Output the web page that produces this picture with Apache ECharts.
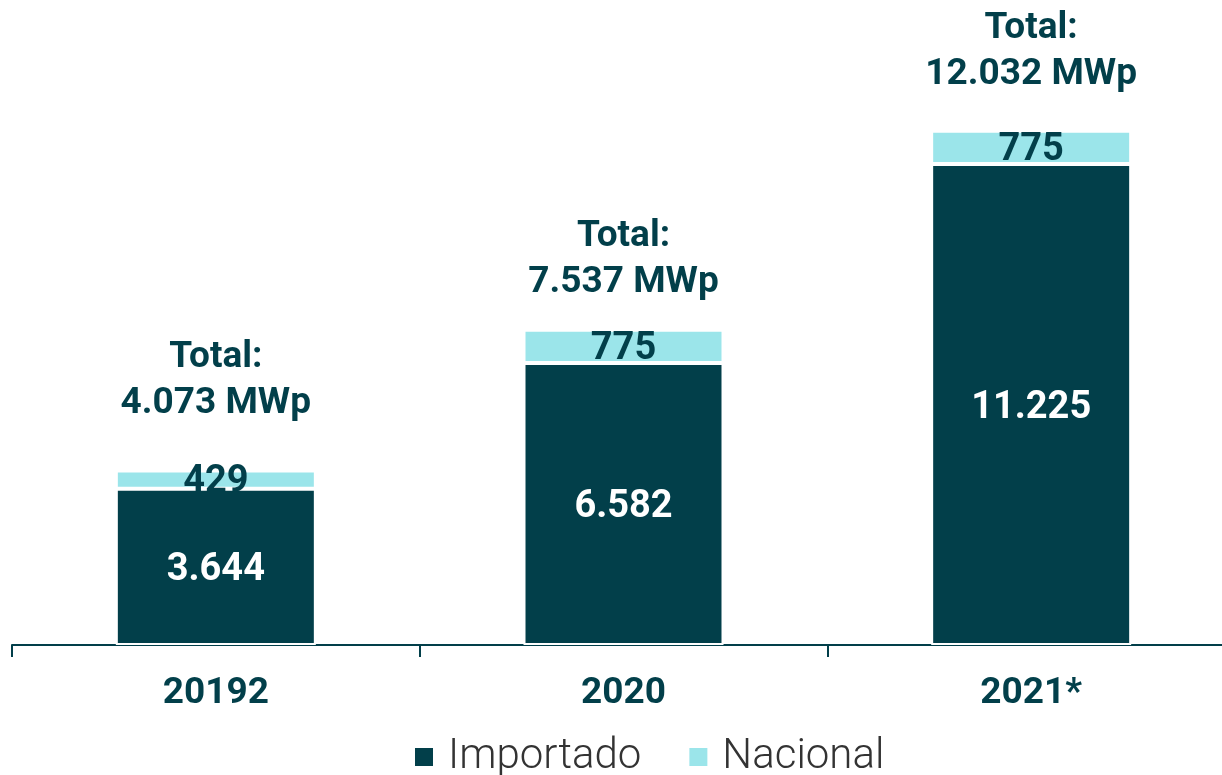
<!DOCTYPE html>
<html>
<head>
<meta charset="utf-8">
<script src="https://cdn.jsdelivr.net/npm/echarts@6/dist/echarts.min.js"></script>
<style>
  html, body { margin: 0; padding: 0; background: #fff; }
  #main { width: 1222px; height: 775px; }
</style>
</head>
<body>
<div id="main"></div>
<script>
// datos
var anos = ['20192', '2020', '2021*'];
var importado = [3644, 6582, 11225];
var nacional = [429, 775, 775];
var totales = ['4.073', '7.537', '12.032'];

var oscuro = '#023f4a';
var claro = '#9be5ea';
var fuente = 'Roboto';

// separacion del texto "Total" sobre cada barra
var distTotal = [44, 24, 33];

function miles(v) {
  return String(v).replace(/\B(?=(\d{3})+(?!\d))/g, '.');
}

var option = {
  animation: false,
  grid: { left: 12, right: -13, top: 45, bottom: 130, outerBoundsMode: 'none' },
  legend: {
    data: ['Importado', 'Nacional'],
    bottom: -8,
    left: 408,
    icon: 'rect',
    itemWidth: 20,
    itemHeight: 20,
    itemGap: 46,
    textStyle: { fontFamily: fuente, fontSize: 42, fontWeight: 300, color: '#333', padding: [0, 0, 0, 9] }
  },
  xAxis: {
    type: 'category',
    data: anos,
    axisLine: { lineStyle: { color: oscuro, width: 2 } },
    axisTick: { show: true, length: 12, lineStyle: { color: oscuro, width: 2 } },
    axisLabel: { margin: 30, fontFamily: fuente, fontSize: 37, fontWeight: 'bold', color: oscuro }
  },
  yAxis: {
    type: 'value',
    min: 0,
    max: 14000,
    show: false,
    splitLine: { show: false }
  },
  series: [
    {
      name: 'Importado',
      type: 'bar',
      stack: 'mw',
      barWidth: 200,
      data: importado,
      itemStyle: { color: oscuro, borderColor: '#fff', borderWidth: 2 },
      label: {
        show: true,
        position: 'inside',
        offset: [0, 4],
        formatter: function (p) { return miles(p.value); },
        fontFamily: fuente, fontSize: 38, fontWeight: 'bold', color: '#fff'
      }
    },
    {
      name: 'Nacional',
      type: 'bar',
      stack: 'mw',
      barWidth: 200,
      data: nacional,
      itemStyle: { color: claro, borderColor: '#fff', borderWidth: 2 },
      label: {
        show: true,
        position: 'inside',
        offset: [0, 3],
        formatter: function (p) { return miles(p.value); },
        fontFamily: fuente, fontSize: 38, fontWeight: 'bold', color: oscuro
      }
    },
    {
      name: 'Total',
      type: 'bar',
      stack: 'mw',
      barWidth: 200,
      silent: true,
      data: totales.map(function (t, i) {
        return { value: 0, label: { distance: distTotal[i] } };
      }),
      itemStyle: { color: 'transparent' },
      label: {
        show: true,
        position: 'top',
        formatter: function (p) { return 'Total:\n' + totales[p.dataIndex] + ' MWp'; },
        fontFamily: fuente, fontSize: 37, fontWeight: 'bold', color: oscuro,
        lineHeight: 46, align: 'center'
      }
    }
  ]
};

var myChart = echarts.init(document.getElementById('main'));
myChart.setOption(option);
</script>
</body>
</html>
